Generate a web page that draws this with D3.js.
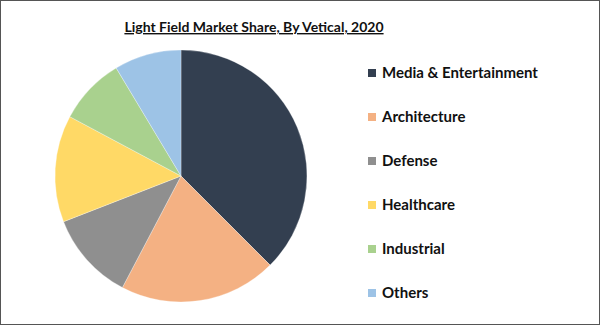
<!DOCTYPE html>
<html><head><meta charset="utf-8">
<script src="https://cdn.jsdelivr.net/npm/d3@7"></script>
<style>body{margin:0;background:#fff}svg{display:block}</style>
</head><body>
<script>
const categories = ["Media & Entertainment","Architecture","Defense","Healthcare","Industrial","Others"];
const values = [37.5, 20.2, 11.4, 13.7, 8.6, 8.6];
const colors = ["#333F50","#F4B183","#8F8F8F","#FFD966","#A9D18E","#9DC3E6"];
const title = "Light Field Market Share, By Vetical, 2020";

const W = 600, H = 325;
const svg = d3.select("body").append("svg").attr("width", W).attr("height", H);
svg.append("rect").attr("x",0.5).attr("y",0.5).attr("width",W-1).attr("height",H-1)
  .attr("fill","#fff").attr("stroke","#555").attr("stroke-width",1);

const font = "Lato, 'Open Sans', sans-serif";
svg.append("text").attr("x", 254).attr("y", 32).attr("text-anchor","middle")
  .attr("font-family", font).attr("font-weight","bold").attr("font-size",14)
  .attr("fill","#111").attr("text-decoration","underline").text(title);

const data = categories.map((c,i)=>({c, v: values[i], col: colors[i]}));
const pie = d3.pie().value(d=>d.v).sort(null);
const arc = d3.arc().innerRadius(0).outerRadius(126);
const g = svg.append("g").attr("transform","translate(181,176)");
g.selectAll("path").data(pie(data)).join("path")
  .attr("d", arc).attr("fill", d=>d.data.col).attr("stroke","#fff").attr("stroke-width",0.3);

const color = d3.scaleOrdinal().domain(categories).range(colors);
const ly = d3.scalePoint().domain(categories).range([73, 293]);
const lg = svg.append("g");
const items = lg.selectAll("g").data(categories).join("g")
  .attr("transform", d=>`translate(368,${ly(d)})`);
items.append("rect").attr("x",0).attr("y",-4).attr("width",8).attr("height",8).attr("fill", d=>color(d));
items.append("text").attr("x",14).attr("y",5).attr("font-family",font).attr("font-weight","bold")
  .attr("font-size",15).attr("fill","#111").text(d=>d);
</script>
</body></html>
